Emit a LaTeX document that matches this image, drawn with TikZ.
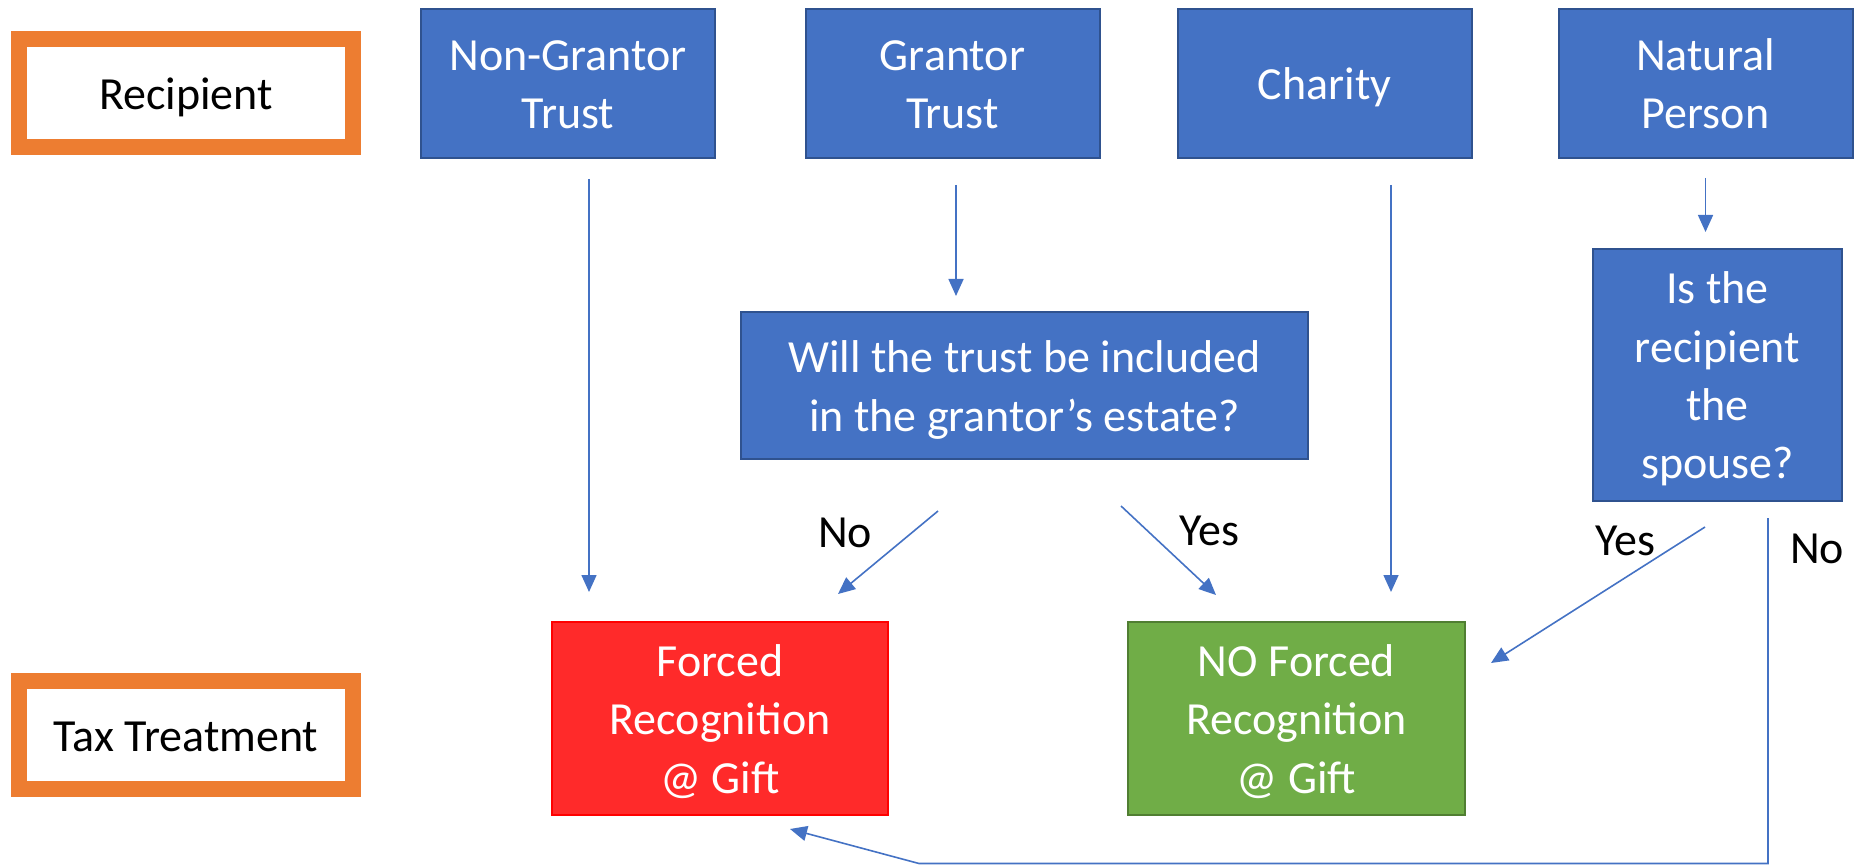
\documentclass[tikz,border=0pt]{standalone}
\usepackage{fontspec}
\setmainfont{Carlito}
\usetikzlibrary{arrows.meta,positioning}
\definecolor{boxblue}{HTML}{4472C4}
\definecolor{edgeblue}{HTML}{2F528F}
\definecolor{hotred}{HTML}{FF2A2A}
\definecolor{okgreen}{HTML}{70AD47}
\definecolor{edgegreen}{HTML}{507E32}
\definecolor{tagorange}{HTML}{ED7D31}
\tikzset{
  basic/.style   = {draw, rectangle, align=center, font={\fontsize{23}{29.2}\selectfont},
                   text height=22.3pt, text depth=6pt},
  two/.style     = {text height=51.5pt},
  three/.style   = {text height=80.7pt},
  four/.style    = {text height=109.9pt},
  tag/.style     = {basic, draw=tagorange, line width=8pt, fill=white,
                   minimum width=167pt, minimum height=54pt},
  kind/.style    = {basic, draw=edgeblue, line width=1pt, fill=boxblue, text=white,
                   minimum width=147pt, minimum height=74.5pt},
  outcome/.style = {basic, three, line width=1pt, text=white, minimum height=96.5pt},
  answer/.style  = {font={\fontsize{23}{29.2}\selectfont}, anchor=base, inner sep=0pt},
  link/.style    = {draw=boxblue, line width=0.8pt, -{Triangle[length=8.5pt,width=7.5pt]}}
}

\begin{document}
\begin{tikzpicture}[x=0.5pt,y=-0.5pt]
\useasboundingbox (0,0) rectangle (1855,865);
% row labels
\node[tag] (recip) at (186,93) {Recipient};
\node[tag] (tax) at (186,735) {Tax Treatment};
% recipients
\node[kind, two] (ngt) at (568,83.5) {Non-Grantor\\Trust};
\node[kind, two] (gt) at (952.5,83.5) {Grantor\\Trust};
\node[kind] (char) at (1324.5,83.5) {Charity};
\node[kind, two] (nat) at (1705.5,83.5) {Natural\\Person};
% questions
\node[kind, two, minimum width=283.5pt, minimum height=73.5pt] (q) at (1024.5,385.5)
  {Will the trust be included\\in the grantor’s estate?};
\node[kind, four, minimum width=124.5pt, minimum height=126pt] (sp) at (1717.5,375)
  {Is the\\recipient\\the\\spouse?};
% outcomes
\node[outcome, draw=red, fill=hotred, minimum width=168pt] (forced) at (720,718.5)
  {Forced\\Recognition\\@ Gift};
\node[outcome, draw=edgegreen, fill=okgreen, minimum width=168.5pt] (noforced) at (1296.5,718.5)
  {NO Forced\\Recognition\\@ Gift};
% answers
\node[answer] (no1) at (845,547) {No};
\node[answer] (yes1) at (1209,545) {Yes};
\node[answer] (yes2) at (1625,555) {Yes};
\node[answer] (no2) at (1817,563) {No};
\coordinate (turn) at (919,863.5);

\draw[link, shorten <=10pt, shorten >=14.5pt] ([xshift=10.5pt]ngt.south) -- ([xshift=10.5pt]ngt.south |- forced.north);
\draw[link, shorten <=13pt, shorten >=7.5pt] ([xshift=1.75pt]gt.south) -- ([xshift=1.75pt]gt.south |- q.north);
\draw[link, shorten <=13pt, shorten >=14.5pt] ([xshift=33.25pt]char.south) -- ([xshift=33.25pt]char.south |- noforced.north);
\draw[link, shorten <=9.5pt, shorten >=8pt] (nat.south) -- (nat.south |- sp.north);
\draw[link] ([xshift=-43.25pt,yshift=-25.5pt]q.south) -- ([xshift=59pt,yshift=13.5pt]forced.north);
\draw[link] ([xshift=48.25pt,yshift=-23pt]q.south) -- ([xshift=-40.25pt,yshift=13pt]noforced.north);
\draw[link] ([xshift=-6.25pt,yshift=-12.5pt]sp.south) -- ([xshift=12.5pt,yshift=27.75pt]noforced.east);
\draw[link] ([xshift=25.25pt,yshift=-8pt]sp.south) |- (turn) -- ([xshift=35pt,yshift=-6.5pt]forced.south);
\end{tikzpicture}
\end{document}
